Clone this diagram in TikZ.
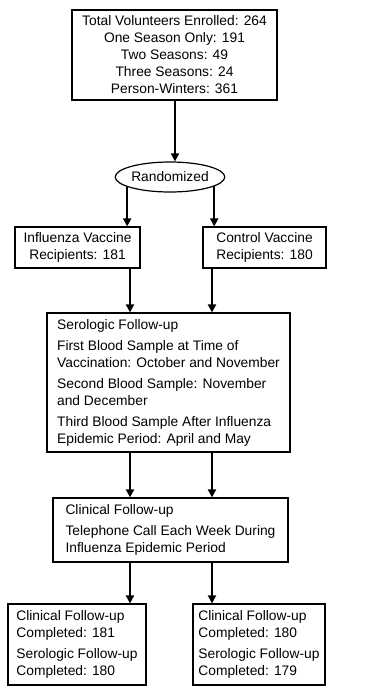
\documentclass[tikz,border=0pt]{standalone}
\usepackage{fontspec}
\setmainfont{Liberation Sans}
\usetikzlibrary{shapes.geometric,arrows.meta}
\begin{document}
\begin{tikzpicture}[x=1pt,y=-1pt,
  box/.style={draw,line width=1.2pt,inner sep=0pt,font=\fontsize{13.8}{17}\selectfont},
  arr/.style={line width=1.8pt,-{Triangle[length=8pt,width=8pt]}}]
\useasboundingbox[fill=white] (0,0) rectangle (384,689);
\coordinate (L) at (130,0);
\coordinate (R) at (212,0);
\coordinate (M) at (175,0);
\node[box,align=center,minimum width=205pt,minimum height=90pt] (top) at (174.5,55)
  {Total Volunteers Enrolled: 264\\One Season Only: 191\\Two Seasons: 49\\Three Seasons: 24\\Person-Winters: 361};
\node[box,ellipse,minimum width=104pt,minimum height=30pt] (rand) at (170,177) {Randomized};
\node[box,align=center,minimum width=125pt,minimum height=41pt] (infl) at (77.5,247.5)
  {Influenza Vaccine\\Recipients: 181};
\node[box,align=center,minimum width=123pt,minimum height=41pt] (ctrl) at (264.5,247.5)
  {Control Vaccine\\Recipients: 180};
\node[box,align=left,minimum width=243pt,minimum height=139pt] (sero) at (168.5,382.5)
  {Serologic Follow-up\\[4pt]First Blood Sample at Time of\\Vaccination: October and November\\[4pt]Second Blood Sample: November\\and December\\[4pt]Third Blood Sample After Influenza\\Epidemic Period: April and May};
\node[box,align=left,minimum width=235pt,minimum height=64pt] (clin) at (170.5,530)
  {Clinical Follow-up\\[4pt]Telephone Call Each Week During\\Influenza Epidemic Period};
\node[box,align=left,minimum width=138pt,minimum height=81pt] (resl) at (77,644.5)
  {Clinical Follow-up\\Completed: 181\\[4pt]Serologic Follow-up\\Completed: 180};
\node[box,align=left,minimum width=132pt,minimum height=81pt] (resr) at (259,644.5)
  {Clinical Follow-up\\Completed: 180\\[4pt]Serologic Follow-up\\Completed: 179};
\draw[arr] (top.south -| M) -- (rand.north -| M);
\draw[arr] (rand.193.5) -- (rand.193.5 |- infl.north);
\draw[arr] (rand.348) -- (rand.348 |- ctrl.north);
\draw[arr] (infl.south -| L) -- (sero.north -| L);
\draw[arr] (ctrl.south -| R) -- (sero.north -| R);
\draw[arr] (sero.south -| L) -- (clin.north -| L);
\draw[arr] (sero.south -| R) -- (clin.north -| R);
\draw[arr] (clin.south -| L) -- (resl.north -| L);
\draw[arr] (clin.south -| R) -- (resr.north -| R);
\end{tikzpicture}
\end{document}
